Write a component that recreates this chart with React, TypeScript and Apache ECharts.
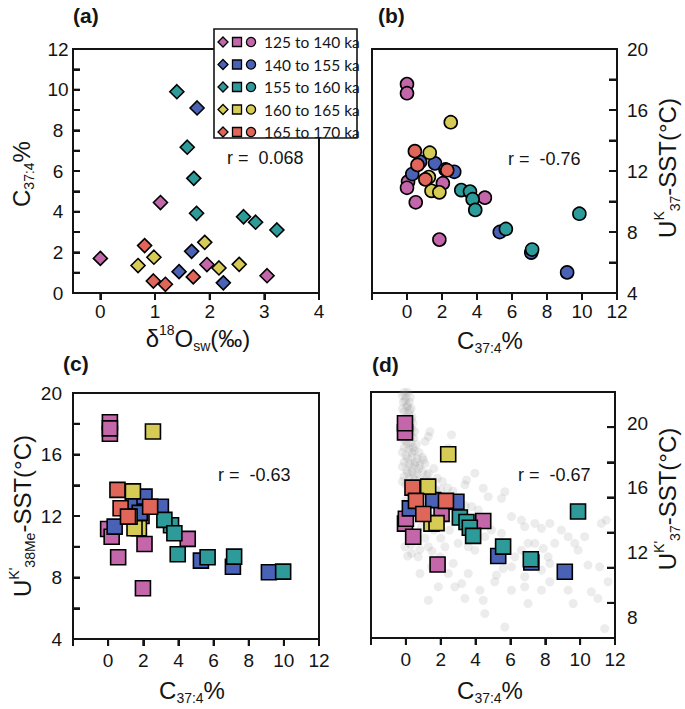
import React, { useEffect, useRef } from 'react';
import * as echarts from 'echarts';

const FONT = '"Liberation Sans", Arial, Helvetica, sans-serif';
const INK = '#141414';

const GROUPS = ['125 to 140 ka', '140 to 155 ka', '155 to 160 ka', '160 to 165 ka', '165 to 170 ka'];
const COLORS = ['#C466AA', '#4A62B5', '#2E9B9B', '#D6CC55', '#E0665A'];

// Panel (a): delta18O_sw (x) vs C37:4 % (y)
const aPink = [[0.0, 1.7], [1.1, 4.45], [1.95, 1.4], [3.05, 0.85]];
const aBlue = [[1.77, 9.1], [1.67, 2.05], [1.44, 1.05], [2.25, 0.5]];
const aTeal = [[1.4, 9.9], [1.59, 7.17], [1.71, 5.64], [1.76, 3.92], [2.62, 3.75], [2.84, 3.48], [3.23, 3.1]];
const aYellow = [[0.69, 1.35], [0.98, 1.76], [1.91, 2.49], [2.17, 1.23], [2.54, 1.41]];
const aRed = [[0.81, 2.33], [0.97, 0.59], [1.19, 0.43], [1.7, 0.79]];

// Panel (b): C37:4 % (x) vs UK37-SST (y)
const bPink = [[0.0, 17.7], [0.0, 17.1], [0.06, 11.3], [0.0, 10.9], [0.5, 9.95], [1.85, 7.5], [2.05, 11.2], [4.45, 10.25]];
const bBlue = [[0.3, 11.8], [0.75, 12.6], [1.6, 12.5], [2.2, 12.1], [2.7, 11.95], [5.3, 8.0], [7.1, 6.65], [9.15, 5.35]];
const bTeal = [[3.1, 10.75], [3.6, 10.65], [3.75, 10.15], [3.9, 9.45], [5.65, 8.2], [7.15, 6.85], [9.85, 9.2]];
const bYellow = [[2.5, 15.2], [1.3, 13.2], [1.25, 11.6], [1.4, 10.7], [1.85, 10.6]];
const bRed = [[0.45, 13.3], [0.6, 12.4], [1.05, 11.45], [2.3, 12.05]];

// Panel (c): C37:4 % (x) vs UK'38Me-SST (y)
const cPink = [[0.1, 17.35], [0.1, 18.1], [0.1, 17.7], [0.0, 11.15], [0.2, 10.65], [0.57, 9.32], [1.9, 12.0], [2.07, 10.18], [1.98, 7.3], [4.53, 10.51]];
const cBlue = [[0.37, 11.31], [1.41, 12.83], [2.07, 13.26], [1.8, 12.2], [3.0, 12.6], [5.28, 9.1], [7.1, 8.7], [9.15, 8.34]];
const cTeal = [[3.58, 11.4], [3.2, 11.75], [3.77, 10.88], [3.96, 9.51], [5.66, 9.32], [7.17, 9.36], [9.96, 8.38]];
const cYellow = [[2.55, 17.5], [1.41, 13.6], [1.75, 11.2], [1.5, 11.2], [1.22, 11.96]];
const cRed = [[0.53, 13.7], [0.71, 12.5], [1.13, 11.96], [2.39, 12.6]];

// Panel (d): C37:4 % (x) vs UK'37-SST (y)
const dPink = [[-0.05, 19.43], [-0.05, 19.99], [-0.05, 13.8], [0.0, 14.1], [0.42, 12.99], [2.05, 14.4], [1.82, 11.28], [4.44, 13.96]];
const dBlue = [[0.23, 14.74], [1.57, 15.25], [2.9, 15.15], [5.3, 11.8], [7.2, 11.4], [9.12, 10.83]];
const dTeal = [[3.1, 14.18], [3.48, 13.9], [3.67, 13.54], [3.86, 13.04], [5.58, 12.38], [7.17, 11.6], [9.88, 14.55]];
const dYellow = [[2.43, 18.08], [1.28, 16.08], [1.47, 13.8], [1.76, 13.83]];
const dRed = [[0.38, 16.02], [0.58, 15.2], [1.0, 14.39], [2.3, 15.2]];

// Panel (d) background compilation (grey cloud)
const dGrey = [
  [-0.1, 21.9], [0.1, 21.9], [0.0, 21.6], [-0.15, 21.3], [0.2, 21.3], [0.05, 21.0], [0.3, 20.9], [-0.1, 20.7], [0.15, 20.6],
  [0.35, 20.4], [-0.15, 20.2], [0.1, 20.2], [0.4, 20.0], [0.0, 19.8], [0.25, 19.7], [0.5, 19.5], [-0.1, 19.3], [0.15, 19.3],
  [0.45, 19.1], [0.0, 18.9], [0.3, 18.8], [0.6, 18.7], [-0.1, 18.5], [0.2, 18.4], [0.5, 18.3], [0.75, 18.2], [0.0, 18.0],
  [0.35, 17.9], [0.65, 17.8], [0.95, 17.9], [-0.1, 17.6], [0.2, 17.5], [0.5, 17.4], [0.8, 17.4], [1.1, 17.5], [0.05, 17.1],
  [0.35, 17.0], [0.65, 16.9], [0.95, 17.0], [1.3, 16.9], [1.6, 17.2], [-0.1, 16.7], [0.2, 16.6], [0.5, 16.5], [0.8, 16.5],
  [1.1, 16.5], [1.45, 16.4], [1.8, 16.6], [2.1, 16.4], [0.0, 16.2], [0.35, 16.1], [0.7, 16.0], [1.0, 16.1], [1.35, 16.0],
  [1.7, 15.9], [2.0, 15.9], [2.4, 16.0], [2.7, 15.8], [0.15, 15.7], [0.5, 15.6], [0.9, 15.6], [1.3, 15.5], [1.65, 15.4],
  [2.2, 15.5], [2.6, 15.3], [3.0, 15.3], [0.0, 15.2], [0.4, 15.0], [0.8, 14.9], [1.2, 14.9], [1.8, 14.8], [2.4, 14.8],
  [2.9, 14.7], [3.4, 14.9], [0.1, 14.5], [0.6, 14.3], [1.5, 14.2], [2.2, 14.1], [2.8, 13.9], [3.3, 14.4], [0.2, 13.7],
  [0.9, 13.6], [1.6, 13.4], [2.5, 13.4], [0.4, 13.1], [1.1, 12.9], [2.0, 12.9], [0.3, 12.5], [0.8, 12.2], [1.5, 12.1],
  [0.1, 11.8], [1.29, 19.18], [1.38, 19.48], [1.1, 18.87], [2.62, 19.28], [2.43, 18.45], [1.0, 17.73], [3.48, 16.49],
  [3.39, 16.19], [4.44, 15.98], [3.96, 16.91], [5.68, 15.77], [5.49, 15.36], [4.72, 15.46], [3.77, 14.85], [4.15, 14.64],
  [2.81, 14.64], [6.06, 14.23], [6.63, 14.02], [6.82, 13.61], [7.4, 13.81], [7.78, 13.51], [8.26, 13.81], [8.92, 13.4],
  [9.31, 12.99], [9.69, 12.58], [10.26, 12.99], [11.22, 13.81], [11.5, 14.02], [9.88, 12.16], [8.54, 12.58], [8.26, 11.34],
  [7.78, 10.93], [8.26, 10.21], [8.92, 10.72], [9.31, 9.69], [9.6, 8.87], [10.64, 9.59], [11.02, 9.18], [11.41, 7.32],
  [5.68, 7.42], [4.53, 8.25], [4.44, 9.07], [3.39, 9.18], [4.25, 9.69], [2.81, 9.9], [3.2, 10.1], [1.86, 9.9], [0.81, 10.72],
  [2.72, 11.34], [6.06, 9.69], [6.82, 9.9], [7.01, 8.87], [7.78, 9.69], [8.16, 11.75], [6.06, 11.13], [6.25, 11.75],
  [6.63, 12.16], [7.4, 12.58], [7.88, 12.27], [7.01, 12.58], [5.49, 13.2], [4.91, 13.4], [4.53, 12.99], [3.58, 12.37],
  [3.96, 12.16], [3.0, 12.58], [0.33, 11.96], [0.71, 11.75], [-0.05, 12.37], [10.45, 11.24], [11.12, 11.13], [11.6, 10.21],
  [6.82, 10.52], [5.2, 10.62], [5.1, 10.21], [5.58, 11.03], [1.48, 11.13], [2.24, 12.37], [1.29, 12.37], [1.96, 11.75],
  [2.43, 10.72], [3.58, 10.72], [1.29, 9.07],
  [-0.2, 21.7], [0.25, 21.6], [-0.05, 21.4], [0.1, 21.1], [-0.2, 20.9], [0.2, 20.8], [0.0, 20.4], [0.3, 20.2], [-0.05, 20.0],
  [0.2, 19.95], [0.35, 19.6], [0.05, 19.5], [-0.15, 19.0], [0.3, 19.2], [0.1, 18.7], [0.4, 18.5], [-0.2, 18.2], [0.35, 18.2],
  [0.1, 17.8], [0.55, 17.6], [-0.2, 17.3], [0.3, 17.3], [0.75, 17.2], [0.1, 16.9], [0.45, 16.8], [1.2, 16.8], [-0.2, 16.4],
  [0.65, 16.3], [0.95, 16.3], [0.25, 16.3], [1.55, 16.2], [1.2, 16.2],
];

// Tick values and tick labels
const aXTicks = [0, 1, 2, 3, 4];
const aYTicks = [1, 2, 3, 4, 5, 6, 7, 8, 9, 10, 11];
const cXTicks = [-2, 0, 2, 4, 6, 8, 10, 12];
const bYTicks = [6, 8, 10, 12, 14, 16, 18];
const dYTicks = [1, 2, 3, 4, 5, 6];
const dYLabels = [8, 12, 16, 20];
const rValues = ['r =  0.068', 'r =  -0.76', 'r =  -0.63', 'r =  -0.67'];

const mkRich = () => ({
  m: { fontSize: 24, lineHeight: 30, fontFamily: FONT, fill: INK, color: INK },
  sub: { fontSize: 14, lineHeight: 12, verticalAlign: 'bottom', fontFamily: FONT, fill: INK, color: INK },
  sup: { fontSize: 14, lineHeight: 12, verticalAlign: 'top', fontFamily: FONT, fill: INK, color: INK },
});

const mkLine = () => ({ show: true, onZero: false, lineStyle: { color: INK, width: 2 } });
const mkTick = (inside: boolean, length: number, customValues?: number[]) => {
  const t: any = { show: true, inside, length, lineStyle: { color: INK, width: 2 } };
  if (customValues) t.customValues = customValues.slice();
  return t;
};
const mkLabel = (extra: any) => ({ color: INK, fontSize: 19, fontFamily: FONT, ...extra });

const evenNonNeg = (v: number) => (v < 0 ? '' : String(v));
const every2 = (v: number) => (Math.round(v) % 2 === 0 ? String(v) : '');
const every4 = (v: number) => (Math.round(v) % 4 === 0 ? String(v) : '');

function xAxisC(grid: number, margin: number) {
  return {
    type: 'value', gridIndex: grid, min: -2, max: 12, interval: 2,
    axisLine: mkLine(),
    axisTick: mkTick(false, 7),
    axisLabel: mkLabel({ margin, formatter: evenNonNeg }),
    splitLine: { show: false },
  };
}

function panelSeries(sets: number[][][], xi: number, yi: number, symbol: string, size: number) {
  return sets.map((data, i) => ({
    name: GROUPS[i],
    type: 'scatter',
    xAxisIndex: xi,
    yAxisIndex: yi,
    data,
    symbol,
    symbolSize: size,
    itemStyle: { color: COLORS[i], borderColor: '#000', borderWidth: 1.6, opacity: 1 },
    z: 3,
    silent: true,
  }));
}

// Tick marks as thin rect symbols placed through the axes' own scales
function tickSeries(xi: number, yi: number, data: number[][], size: number[], offset: number[]) {
  return {
    type: 'scatter', xAxisIndex: xi, yAxisIndex: yi, data, clip: false, silent: true, z: 6,
    symbol: 'rect', symbolSize: size, symbolOffset: offset,
    itemStyle: { color: INK, borderWidth: 0, opacity: 1 },
    emphasis: { disabled: true },
  };
}

export default function App() {
  const ref = useRef<HTMLDivElement>(null);
  useEffect(() => {
    if (!ref.current) return;
    const chart = echarts.init(ref.current, undefined, { renderer: 'svg' });

    const legendRows = [42, 64.5, 87, 109.5, 132];
    const legendEls: any[] = [
      { type: 'rect', shape: { x: 214, y: 29, width: 143, height: 109 }, style: { fill: '#fff', stroke: INK, lineWidth: 1.6 }, z: 10 },
    ];
    legendRows.forEach((y, i) => {
      legendEls.push({ type: 'polygon', shape: { points: [[223, y - 5], [228, y], [223, y + 5], [218, y]] }, style: { fill: COLORS[i], stroke: '#000', lineWidth: 1.3 }, z: 11 });
      legendEls.push({ type: 'rect', shape: { x: 232.5, y: y - 4.5, width: 9, height: 9 }, style: { fill: COLORS[i], stroke: '#000', lineWidth: 1.3 }, z: 11 });
      legendEls.push({ type: 'circle', shape: { cx: 251, cy: y, r: 4.6 }, style: { fill: COLORS[i], stroke: '#000', lineWidth: 1.3 }, z: 11 });
      legendEls.push({ type: 'text', x: 264, y, style: { text: GROUPS[i], fontSize: 15.5, fontFamily: 'Lato, "Open Sans", sans-serif', fill: INK, align: 'left', verticalAlign: 'middle' }, z: 11 });
    });

    const panelLabels = [['(a)', 73, 15], ['(b)', 378, 15], ['(c)', 63, 363], ['(d)', 372, 364]].map(([t, x, y]) => ({
      type: 'text', x, y, style: { text: t, fontSize: 21, fontWeight: 'bold', fontFamily: FONT, fill: INK, align: 'left', verticalAlign: 'middle' }, z: 12,
    }));

    const rPos = [[227, 158], [508, 159], [218, 475], [518, 475]];
    const rTexts = rValues.map((t, i) => ({
      type: 'text', x: rPos[i][0], y: rPos[i][1], style: { text: t, fontSize: 18, fontFamily: FONT, fill: INK, align: 'left', verticalAlign: 'middle' }, z: 12,
    }));

    const titles = [
      { t: '{m|δ}{sup|18}{m|O}{sub|sw}{m|(‰)}', x: 198, y: 338, r: 0 },
      { t: '{m|C}{sub|37:4}{m|%}', x: 490, y: 340, r: 0 },
      { t: '{m|C}{sub|37:4}{m|%}', x: 192, y: 690, r: 0 },
      { t: '{m|C}{sub|37:4}{m|%}', x: 490, y: 690, r: 0 },
      { t: '{m|C}{sub|37:4}{m|%}', x: 21, y: 174, r: Math.PI / 2 },
      { t: '{m|U}{sup|K}{sub|37}{m|-SST(°C)}', x: 667, y: 168, r: Math.PI / 2 },
      { t: "{m|U}{sup|K'}{sub|38Me}{m|-SST(°C)}", x: 22, y: 516, r: Math.PI / 2 },
      { t: "{m|U}{sup|K'}{sub|37}{m|-SST(°C)}", x: 667, y: 499, r: Math.PI / 2 },
    ].map((o) => ({
      type: 'text', x: o.x, y: o.y, rotation: o.r,
      style: { text: o.t, rich: mkRich(), align: 'center', verticalAlign: 'middle', fontFamily: FONT, fontSize: 24, fill: INK },
      z: 12,
    }));

    const mkGrid = (left: number, top: number, width: number, height: number) => ({
      show: true, borderColor: INK, borderWidth: 2, left, top, width, height,
    });

    const option: any = {
      animation: false,
      grid: [
        mkGrid(73, 49, 246, 244),
        mkGrid(372, 49, 245, 244),
        mkGrid(73, 393, 246, 246),
        mkGrid(371, 392, 244, 246),
      ],
      xAxis: [
        {
          type: 'value', gridIndex: 0, min: -0.5, max: 4,
          axisLine: mkLine(),
          axisTick: mkTick(false, 7, aXTicks),
          axisLabel: mkLabel({ margin: 9, customValues: aXTicks.slice() }),
          splitLine: { show: false },
        },
        xAxisC(1, 9),
        xAxisC(2, 12),
        xAxisC(3, 12),
      ],
      yAxis: [
        {
          type: 'value', gridIndex: 0, position: 'left', min: 0, max: 12, interval: 1,
          axisLine: mkLine(), axisTick: mkTick(true, 7),
          axisLabel: mkLabel({ margin: 15, align: 'center', formatter: every2 }),
          splitLine: { show: false },
        },
        {
          type: 'value', gridIndex: 1, position: 'right', min: 4, max: 20, interval: 2,
          axisLine: mkLine(), axisTick: mkTick(true, 8),
          axisLabel: mkLabel({ margin: 10, formatter: every4 }),
          splitLine: { show: false },
        },
        {
          type: 'value', gridIndex: 2, position: 'left', min: 4, max: 20, interval: 2,
          axisLine: mkLine(), axisTick: mkTick(true, 7),
          axisLabel: mkLabel({ margin: 11, formatter: every4 }),
          splitLine: { show: false },
        },
        {
          type: 'value', gridIndex: 3, position: 'right', min: 6.74, max: 21.92,
          axisLine: mkLine(), axisTick: { show: false },
          axisLabel: mkLabel({ margin: 12, customValues: dYLabels.slice() }),
          splitLine: { show: false },
        },
        {
          type: 'value', gridIndex: 3, position: 'right', min: 0, max: 7, interval: 1,
          axisLine: mkLine(), axisTick: mkTick(true, 8),
          axisLabel: { show: false },
          splitLine: { show: false },
        },
      ],
      series: [
        ...panelSeries([aPink, aBlue, aTeal, aYellow, aRed], 0, 0, 'diamond', 14),
        ...panelSeries([bPink, bBlue, bTeal, bYellow, bRed], 1, 1, 'circle', 13),
        ...panelSeries([cPink, cBlue, cTeal, cYellow, cRed], 2, 2, 'rect', 15),
        {
          name: 'compilation', type: 'scatter', xAxisIndex: 3, yAxisIndex: 3, data: dGrey,
          symbol: 'circle', symbolSize: 9, itemStyle: { color: 'rgba(150,150,150,0.22)' }, z: 2, silent: true,
        },
        ...panelSeries([dPink, dBlue, dTeal, dYellow, dRed], 3, 3, 'rect', 15),
        // x ticks (outward, downwards)
        tickSeries(0, 0, aXTicks.map((v) => [v, 0]), [2, 7], [0, 3.5]),
        tickSeries(1, 1, cXTicks.map((v) => [v, 4]), [2, 7], [0, 3.5]),
        tickSeries(2, 2, cXTicks.map((v) => [v, 4]), [2, 7], [0, 3.5]),
        tickSeries(3, 4, cXTicks.map((v) => [v, 0]), [2, 7], [0, 3.5]),
        // y ticks (inside)
        tickSeries(0, 0, aYTicks.map((v) => [-0.5, v]), [7, 2], [3.5, 0]),
        tickSeries(1, 1, bYTicks.map((v) => [12, v]), [8, 2], [-4, 0]),
        tickSeries(2, 2, bYTicks.map((v) => [-2, v]), [7, 2], [3.5, 0]),
        tickSeries(3, 4, dYTicks.map((v) => [12, v]), [8, 2], [-4, 0]),
      ],
      graphic: [...legendEls, ...panelLabels, ...rTexts, ...titles],
    };
    chart.setOption(option);
    return () => chart.dispose();
  }, []);
  return <div ref={ref} style={{ position: 'fixed', left: 0, top: 0, width: 685, height: 709, background: '#fff' }} />;
}
